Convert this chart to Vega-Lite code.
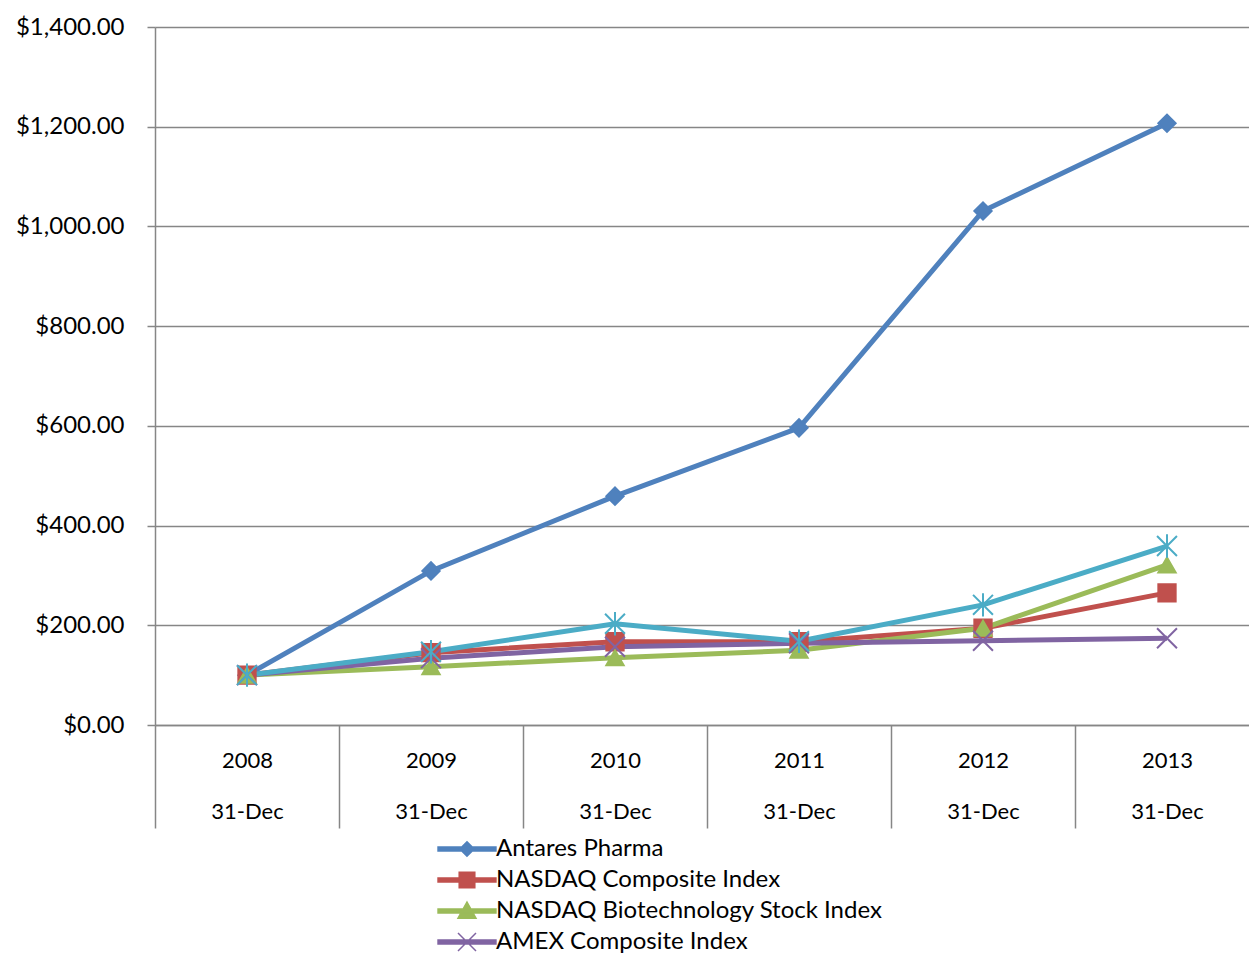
{
  "$schema": "https://vega.github.io/schema/vega-lite/v6.json",
  "autosize": "none",
  "width": 1104,
  "height": 698,
  "padding": {"left": 155, "top": 27, "right": 0, "bottom": 230},
  "background": "white",
  "config": {
    "view": {"stroke": null},
    "font": "Lato",
    "axis": {"labelColor": "#000000", "labelFont": "Lato", "domainColor": "#868686", "tickColor": "#868686", "gridColor": "#868686"}
  },
  "data": {
    "values": [
      {"series": "Antares Pharma", "marker": "diamond", "year": "2008", "value": 100},
      {"series": "Antares Pharma", "marker": "diamond", "year": "2009", "value": 309},
      {"series": "Antares Pharma", "marker": "diamond", "year": "2010", "value": 459},
      {"series": "Antares Pharma", "marker": "diamond", "year": "2011", "value": 596},
      {"series": "Antares Pharma", "marker": "diamond", "year": "2012", "value": 1031},
      {"series": "Antares Pharma", "marker": "diamond", "year": "2013", "value": 1207},
      {"series": "NASDAQ Composite Index", "marker": "square", "year": "2008", "value": 100},
      {"series": "NASDAQ Composite Index", "marker": "square", "year": "2009", "value": 145},
      {"series": "NASDAQ Composite Index", "marker": "square", "year": "2010", "value": 167},
      {"series": "NASDAQ Composite Index", "marker": "square", "year": "2011", "value": 167},
      {"series": "NASDAQ Composite Index", "marker": "square", "year": "2012", "value": 194},
      {"series": "NASDAQ Composite Index", "marker": "square", "year": "2013", "value": 265},
      {"series": "NASDAQ Biotechnology Stock Index", "marker": "triangle", "year": "2008", "value": 100},
      {"series": "NASDAQ Biotechnology Stock Index", "marker": "triangle", "year": "2009", "value": 117},
      {"series": "NASDAQ Biotechnology Stock Index", "marker": "triangle", "year": "2010", "value": 135},
      {"series": "NASDAQ Biotechnology Stock Index", "marker": "triangle", "year": "2011", "value": 150},
      {"series": "NASDAQ Biotechnology Stock Index", "marker": "triangle", "year": "2012", "value": 194},
      {"series": "NASDAQ Biotechnology Stock Index", "marker": "triangle", "year": "2013", "value": 321},
      {"series": "AMEX Composite Index", "marker": "x", "year": "2008", "value": 100},
      {"series": "AMEX Composite Index", "marker": "x", "year": "2009", "value": 134},
      {"series": "AMEX Composite Index", "marker": "x", "year": "2010", "value": 157},
      {"series": "AMEX Composite Index", "marker": "x", "year": "2011", "value": 164},
      {"series": "AMEX Composite Index", "marker": "x", "year": "2012", "value": 169},
      {"series": "AMEX Composite Index", "marker": "x", "year": "2013", "value": 174},
      {"series": "NASDAQ Pharmaceutical Index", "marker": "star", "year": "2008", "value": 100},
      {"series": "NASDAQ Pharmaceutical Index", "marker": "star", "year": "2009", "value": 147},
      {"series": "NASDAQ Pharmaceutical Index", "marker": "star", "year": "2010", "value": 203},
      {"series": "NASDAQ Pharmaceutical Index", "marker": "star", "year": "2011", "value": 168},
      {"series": "NASDAQ Pharmaceutical Index", "marker": "star", "year": "2012", "value": 241},
      {"series": "NASDAQ Pharmaceutical Index", "marker": "star", "year": "2013", "value": 359}
    ]
  },
  "encoding": {
    "x": {
      "field": "year", "type": "ordinal", "bandPosition": 0.5,
      "scale": {"type": "band", "paddingInner": 0, "paddingOuter": 0},
      "axis": {
        "title": null, "labelAngle": 0, "labelFontSize": 22, "labelPadding": -78,
        "labelBaseline": "top", "labelLineHeight": 51,
        "labelExpr": "datum.label ? [datum.label, '31-Dec'] : ''",
        "tickBand": "extent", "tickSize": 103, "tickWidth": 1.5, "domainWidth": 1.5, "grid": false
      }
    },
    "y": {
      "field": "value", "type": "quantitative",
      "scale": {"domain": [0, 1400], "nice": false},
      "axis": {
        "title": null, "values": [0, 200, 400, 600, 800, 1000, 1200, 1400], "format": "$,.2f",
        "labelFontSize": 24, "labelPadding": 23, "tickSize": 8, "tickWidth": 1.5,
        "domainWidth": 1.5, "grid": true, "gridWidth": 1.5
      }
    }
  },
  "layer": [
    {
      "mark": {"type": "line", "strokeWidth": 5},
      "encoding": {
        "color": {
          "field": "series", "type": "nominal",
          "scale": {
            "domain": ["Antares Pharma", "NASDAQ Composite Index", "NASDAQ Biotechnology Stock Index", "AMEX Composite Index", "NASDAQ Pharmaceutical Index"],
            "range": ["#4F81BD", "#C0504D", "#9BBB59", "#8064A2", "#4BACC6"]
          },
          "legend": {
            "title": null, "orient": "none", "legendX": 282, "legendY": 806, "direction": "vertical",
            "labelFontSize": 24, "labelColor": "#000000", "labelFont": "Lato", "labelOffset": 13,
            "symbolSize": 900, "symbolOffset": 14, "rowPadding": 3, "labelLimit": 600,
            "encode": {
              "symbols": {
                "update": {
                  "fill": {"scale": "color", "field": "value"},
                  "stroke": {"scale": "color", "field": "value"},
                  "strokeWidth": {"value": 1.5},
                  "opacity": {"value": 1},
                  "shape": {"signal": "datum.value === 'Antares Pharma' ? 'M-1.93,-0.14L1.93,-0.14L1.93,0.14L-1.93,0.14ZM0,-0.48L0.48,0L0,0.48L-0.48,0Z' : datum.value === 'NASDAQ Composite Index' ? 'M-1.93,-0.14L1.93,-0.14L1.93,0.14L-1.93,0.14ZM-0.52,-0.52L0.52,-0.52L0.52,0.52L-0.52,0.52Z' : datum.value === 'NASDAQ Biotechnology Stock Index' ? 'M-1.93,-0.14L1.93,-0.14L1.93,0.14L-1.93,0.14ZM0,-0.6L0.6,0.48L-0.6,0.48Z' : datum.value === 'AMEX Composite Index' ? 'M-1.93,-0.14L1.93,-0.14L1.93,0.14L-1.93,0.14ZM-0.6,-0.6L0.6,0.6M-0.6,0.6L0.6,-0.6' : 'M-1.93,-0.14L1.93,-0.14L1.93,0.14L-1.93,0.14ZM-0.6,-0.6L0.6,0.6M-0.6,0.6L0.6,-0.6M0,-0.72L0,0.72'"}
                }
              }
            }
          }
        }
      }
    },
    {
      "mark": {"type": "point", "filled": true, "opacity": 1, "size": 300, "strokeWidth": 2},
      "encoding": {
        "fill": {"field": "marker", "type": "nominal", "legend": null, "scale": {
          "domain": ["diamond", "square", "triangle", "x", "star"],
          "range": ["#4F81BD", "#C0504D", "#9BBB59", "#8064A2", "#4BACC6"]}},
        "stroke": {"field": "marker", "type": "nominal", "legend": null, "scale": {
          "domain": ["diamond", "square", "triangle", "x", "star"],
          "range": ["#4F81BD", "#C0504D", "#9BBB59", "#8064A2", "#4BACC6"]}},
        "shape": {
          "field": "marker", "type": "nominal", "legend": null,
          "scale": {
            "domain": ["diamond", "square", "triangle", "x", "star"],
            "range": ["diamond", "square", "triangle-up", "M-1.15,-1.15L1.15,1.15M-1.15,1.15L1.15,-1.15", "M-1.15,-1.15L1.15,1.15M-1.15,1.15L1.15,-1.15M0,-1.35L0,1.35"]
          }
        }
      }
    }
  ]
}
